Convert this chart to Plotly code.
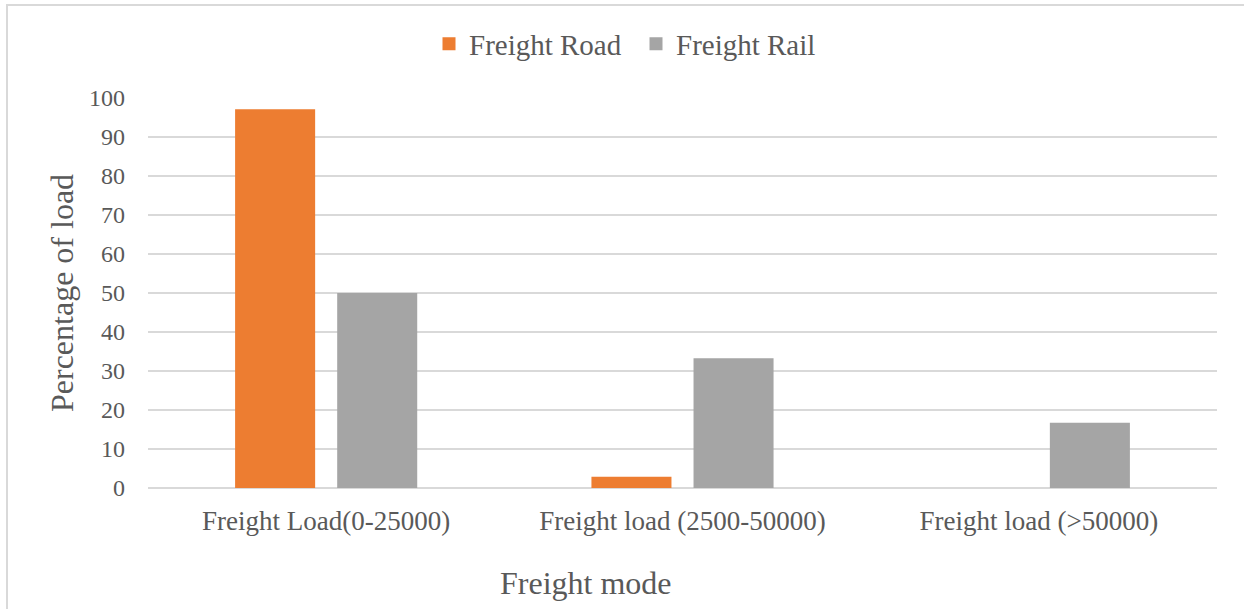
import plotly.graph_objects as go

# Freight load share by mode
categories = ["Freight Load(0-25000)", "Freight load (2500-50000)", "Freight load (>50000)"]
road_values = [97.1, 2.9, 0]
rail_values = [50.0, 33.3, 16.7]
y_ticks = [0, 10, 20, 30, 40, 50, 60, 70, 80, 90, 100]
series_names = ["Freight Road", "Freight Rail"]
series_colors = ["#ED7D31", "#A5A5A5"]

W, H = 1244, 609
L, R, T, B = 148, 27, 98, 121
plot_w = W - L - R
plot_h = H - T - B

FONT = "Liberation Serif, Times New Roman, serif"
TXT = "#595959"
GRID = "#d9d9d9"

fig = go.Figure()
for name, vals, col in zip(series_names, [road_values, rail_values], series_colors):
    fig.add_trace(go.Bar(name=name, x=categories, y=vals, showlegend=False,
                         marker=dict(color=col, line=dict(width=0))))
# square swatches for the legend
for name, col in zip(series_names, series_colors):
    fig.add_trace(go.Scatter(name=name, x=[None], y=[None], mode="markers",
                             marker=dict(symbol="square", size=13, color=col)))


def px_x(p):
    return (p - L) / plot_w


def px_y(p):
    return (H - B - p) / plot_h


fig.update_layout(
    width=W, height=H,
    margin=dict(l=L, r=R, t=T, b=B),
    paper_bgcolor="white", plot_bgcolor="white",
    barmode="group", bargap=0.427, bargroupgap=0.216,
    font=dict(family=FONT, color=TXT),
    showlegend=True,
    legend=dict(orientation="h", x=px_x(636), xanchor="center",
                y=px_y(44), yanchor="middle",
                font=dict(size=29, family=FONT, color=TXT),
                itemwidth=30, entrywidth=162, traceorder="normal"),
    xaxis=dict(showgrid=False, zeroline=False, showline=False,
               tickfont=dict(size=27, family=FONT, color=TXT),
               ticks="", ticklabelstandoff=14),
    yaxis=dict(range=[0, 100], tickvals=y_ticks, showgrid=True,
               gridcolor=GRID, gridwidth=1.5, zeroline=True,
               zerolinecolor=GRID, zerolinewidth=1.5, showline=False,
               tickfont=dict(size=24, family=FONT, color=TXT),
               ticks="", ticklabelstandoff=22),
    annotations=[
        dict(text="Freight mode", xref="paper", yref="paper",
             x=px_x(586), y=px_y(583), xanchor="center", yanchor="middle",
             showarrow=False, font=dict(size=32, family=FONT, color=TXT)),
        dict(text="Percentage of load", xref="paper", yref="paper",
             x=px_x(62), y=px_y(293), xanchor="center", yanchor="middle",
             textangle=-90, showarrow=False,
             font=dict(size=32, family=FONT, color=TXT)),
    ],
    shapes=[
        dict(type="rect", xref="paper", yref="paper",
             x0=px_x(7), x1=px_x(1260), y0=px_y(625), y1=px_y(5),
             line=dict(color=GRID, width=2), fillcolor="rgba(0,0,0,0)",
             layer="below"),
    ],
)

fig.write_html("out.html")
